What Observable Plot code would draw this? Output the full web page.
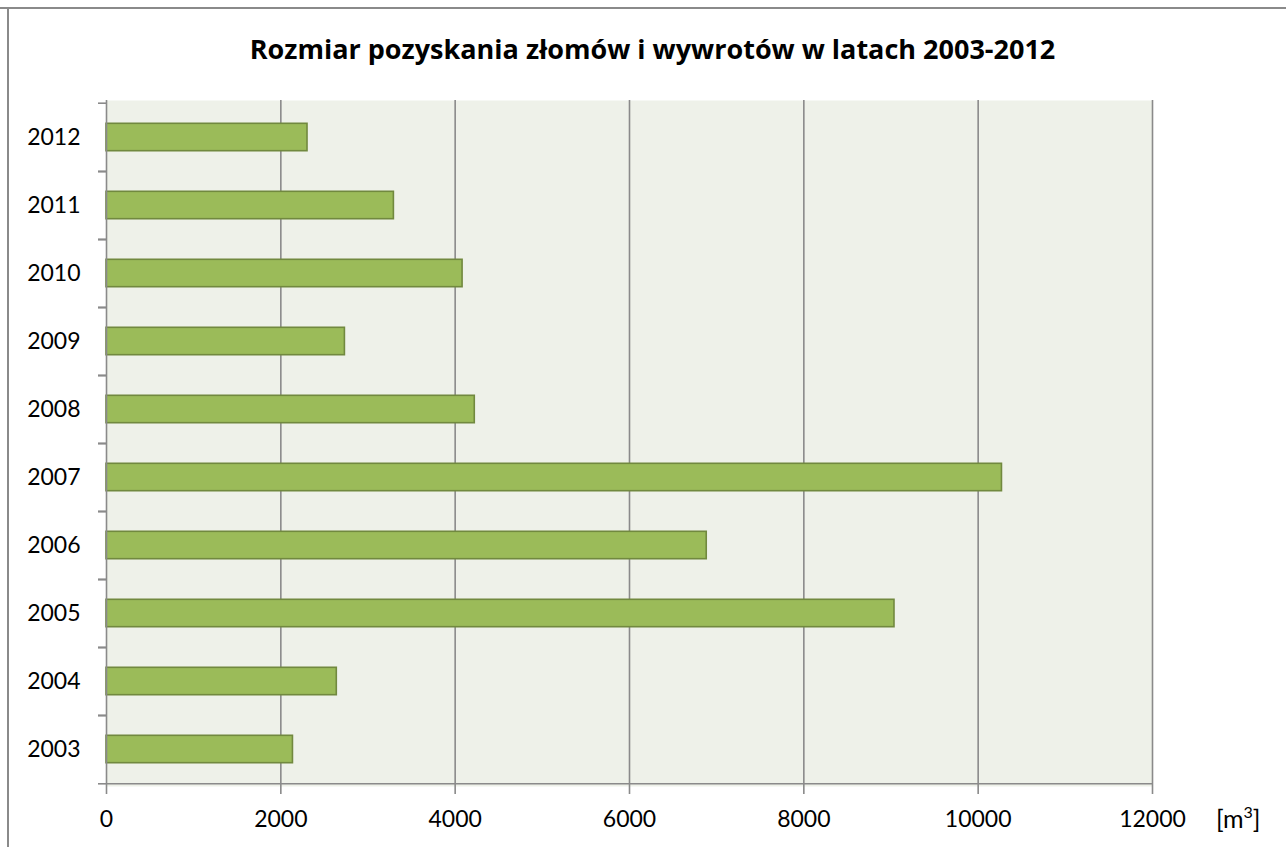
<!DOCTYPE html>
<html>
<head>
<meta charset="utf-8">
<script src="https://cdn.jsdelivr.net/npm/d3@7"></script>
<script src="https://cdn.jsdelivr.net/npm/@observablehq/plot@0.6"></script>
<style>
  html, body { margin: 0; padding: 0; background: #fff; }
  #wrap { position: relative; width: 1286px; height: 847px; overflow: hidden; font-family: Lato, "Open Sans", sans-serif; }
  #topline { position: absolute; left: 0; top: 7px; width: 1286px; height: 2px; background: #8a8a8a; }
  #leftline { position: absolute; left: 7px; top: 7px; width: 2px; height: 840px; background: #8a8a8a; }
  #title { position: absolute; left: 0; width: 1305px; top: 30px; text-align: center; font-family: "Open Sans", Lato, sans-serif; font-size: 27px; line-height: normal; font-weight: bold; color: #000; }
  #unit { position: absolute; left: 1216px; top: 803px; font-size: 25px; color: #000; }
  #unit sup { font-size: 16px; vertical-align: 10px; line-height: 0; }
  #chart { position: absolute; left: 0; top: 0; }
</style>
</head>
<body>
<div id="wrap">
  <div id="chart"></div>
  <div id="topline"></div>
  <div id="leftline"></div>
  <div id="title">Rozmiar pozyskania złomów i wywrotów w latach 2003-2012</div>
  <div id="unit">[m<sup>3</sup>]</div>
</div>
<script>
const years = ["2003","2004","2005","2006","2007","2008","2009","2010","2011","2012"];
const values = [2139, 2642, 9040, 6886, 10273, 4225, 2735, 4085, 3297, 2306];
const xTicks = [0, 2000, 4000, 6000, 8000, 10000, 12000];
const gridTicks = [2000, 4000, 6000, 8000, 10000, 12000];

const data = years.map((y, i) => ({year: y, value: values[i]}));

const W = 1286, H = 847;
const mTop = 100, mBottom = 61, mLeft = 106, mRight = 134;
const bw = (H - mTop - mBottom) / years.length;
const barH = 28;
const inset = (bw - barH) / 2;
const gray = "#8a8a8a";

const chart = Plot.plot({
  width: W,
  height: H,
  marginTop: mTop,
  marginBottom: mBottom,
  marginLeft: mLeft,
  marginRight: mRight,
  style: {fontFamily: "Lato, 'Open Sans', sans-serif", fontSize: "23px", color: "#000", background: "transparent"},
  x: {domain: [0, 12000], ticks: xTicks, label: null},
  y: {domain: years.slice().reverse(), padding: 0, label: null},
  marks: [
    Plot.frame({fill: "#EEF1E9", stroke: null}),
    Plot.gridX(gridTicks, {stroke: gray, strokeOpacity: 1, strokeWidth: 1.6}),
    Plot.barX(data, {x: "value", y: "year", fill: "#9BBB59", stroke: "#71893F", strokeWidth: 1.6, insetTop: inset, insetBottom: inset}),
    Plot.ruleX([0], {stroke: gray, strokeWidth: 1.6}),
    Plot.ruleY(["2003"], {stroke: gray, strokeWidth: 1.6, dy: bw / 2}),
    Plot.axisY({tickSize: 8, tickFormat: () => "", dy: bw / 2, stroke: gray, strokeWidth: 1.6}),
    Plot.axisY({tickSize: 8, tickFormat: () => "", dy: -bw / 2, stroke: gray, strokeWidth: 1.6}),
    Plot.axisY({tickSize: 0, tickPadding: 26, fontSize: 23, fill: "#000"}),
    Plot.axisX(xTicks, {tickSize: 8, tickPadding: 16, stroke: gray, strokeWidth: 1.6, fontSize: 23, fill: "#000", tickFormat: d => String(d)})
  ]
});
document.getElementById("chart").appendChild(chart);
</script>
</body>
</html>
